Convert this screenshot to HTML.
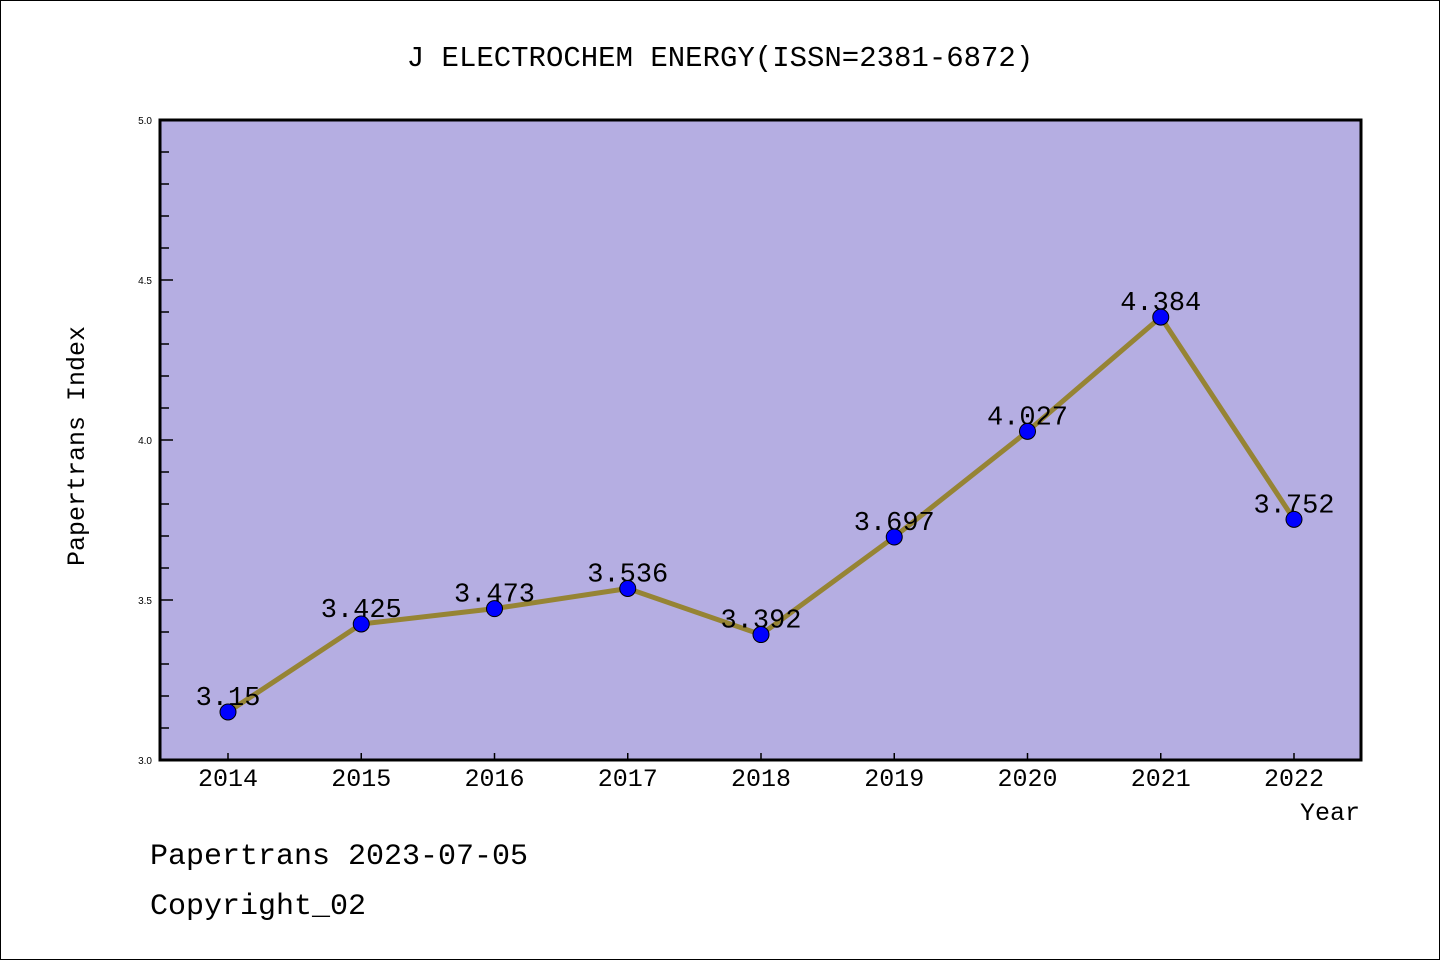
<!DOCTYPE html>
<html><head><meta charset="utf-8"><style>
html,body{margin:0;padding:0;background:#fff}
svg{display:block}
text{font-family:"Liberation Mono","DejaVu Sans Mono",monospace;fill:#000}
text.sans{font-family:"Liberation Sans","DejaVu Sans",sans-serif}
</style></head><body>
<svg id="chart" width="1440" height="960" viewBox="0 0 1440 960">
<rect x="0.5" y="0.5" width="1439" height="959" fill="#fff" stroke="#000"/>
<text x="720" y="66" font-size="29" text-anchor="middle">J ELECTROCHEM ENERGY(ISSN=2381-6872)</text>
<rect x="160" y="120" width="1201" height="640" fill="#b5aee2"/>
<g id="ticks"></g>
<g id="series"></g>
<rect x="160" y="120" width="1201" height="640" fill="none" stroke="#000" stroke-width="3"/>
<text transform="translate(84,446) rotate(-90)" font-size="25" text-anchor="middle">Papertrans Index</text>
<text x="1360" y="820" font-size="25" text-anchor="end">Year</text>
<text x="150" y="864" font-size="30">Papertrans 2023-07-05</text>
<text x="150" y="914" font-size="30">Copyright_02</text>
</svg>
<script>
const years = ["2014","2015","2016","2017","2018","2019","2020","2021","2022"];
const values = [3.15,3.425,3.473,3.536,3.392,3.697,4.027,4.384,3.752];
const labels = ["3.15","3.425","3.473","3.536","3.392","3.697","4.027","4.384","3.752"];
const yTicks = ["3.0","3.5","4.0","4.5","5.0"];
const NS="http://www.w3.org/2000/svg";
const yMin=3,yMax=5,pTop=120,pBot=760;
const x0=228,x1=1294;
function xs(i){return x0+(x1-x0)*i/(years.length-1);}
function ys(v){return pBot-(v-yMin)/(yMax-yMin)*(pBot-pTop);}
function mk(tag,attrs,parent){const e=document.createElementNS(NS,tag);for(const k in attrs)e.setAttribute(k,attrs[k]);parent.appendChild(e);return e;}
const tg=document.getElementById('ticks'), sg=document.getElementById('series');
for(let k=0;k<=20;k++){
  const v=yMin+k*0.1, y=ys(v), major=k%5===0;
  const t=mk('line',{x1:160,x2:major?173:169,y1:y,y2:y,stroke:'#000','stroke-width':1.5},tg);
  
  
}
yTicks.forEach(s=>{
  const t=mk('text',{x:152,y:ys(parseFloat(s))+4,'font-size':10,'text-anchor':'end','class':'sans'},tg);
  t.textContent=s;
  
  
});
years.forEach((yr,i)=>{
  const l=mk('line',{x1:xs(i),x2:xs(i),y1:760,y2:753,stroke:'#000','stroke-width':1.5},tg);
  
  
  const t=mk('text',{x:xs(i),y:786,'font-size':25,'text-anchor':'middle'},tg);
  t.textContent=yr;
  
  
});
const pts=values.map((v,i)=>xs(i)+','+ys(v)).join(' ');
const pl=mk('polyline',{points:pts,fill:'none',stroke:'#968434','stroke-width':5,'stroke-linejoin':'round'},sg);


values.forEach((v,i)=>{
  const t=mk('text',{x:xs(i),y:ys(v)-7,'font-size':27,'text-anchor':'middle'},sg);
  t.textContent=labels[i];
  
  
  const c=mk('circle',{cx:xs(i),cy:ys(v),r:8,fill:'#0000ff',stroke:'#000','stroke-width':1},sg);
  
  
});
</script>
</body></html>
